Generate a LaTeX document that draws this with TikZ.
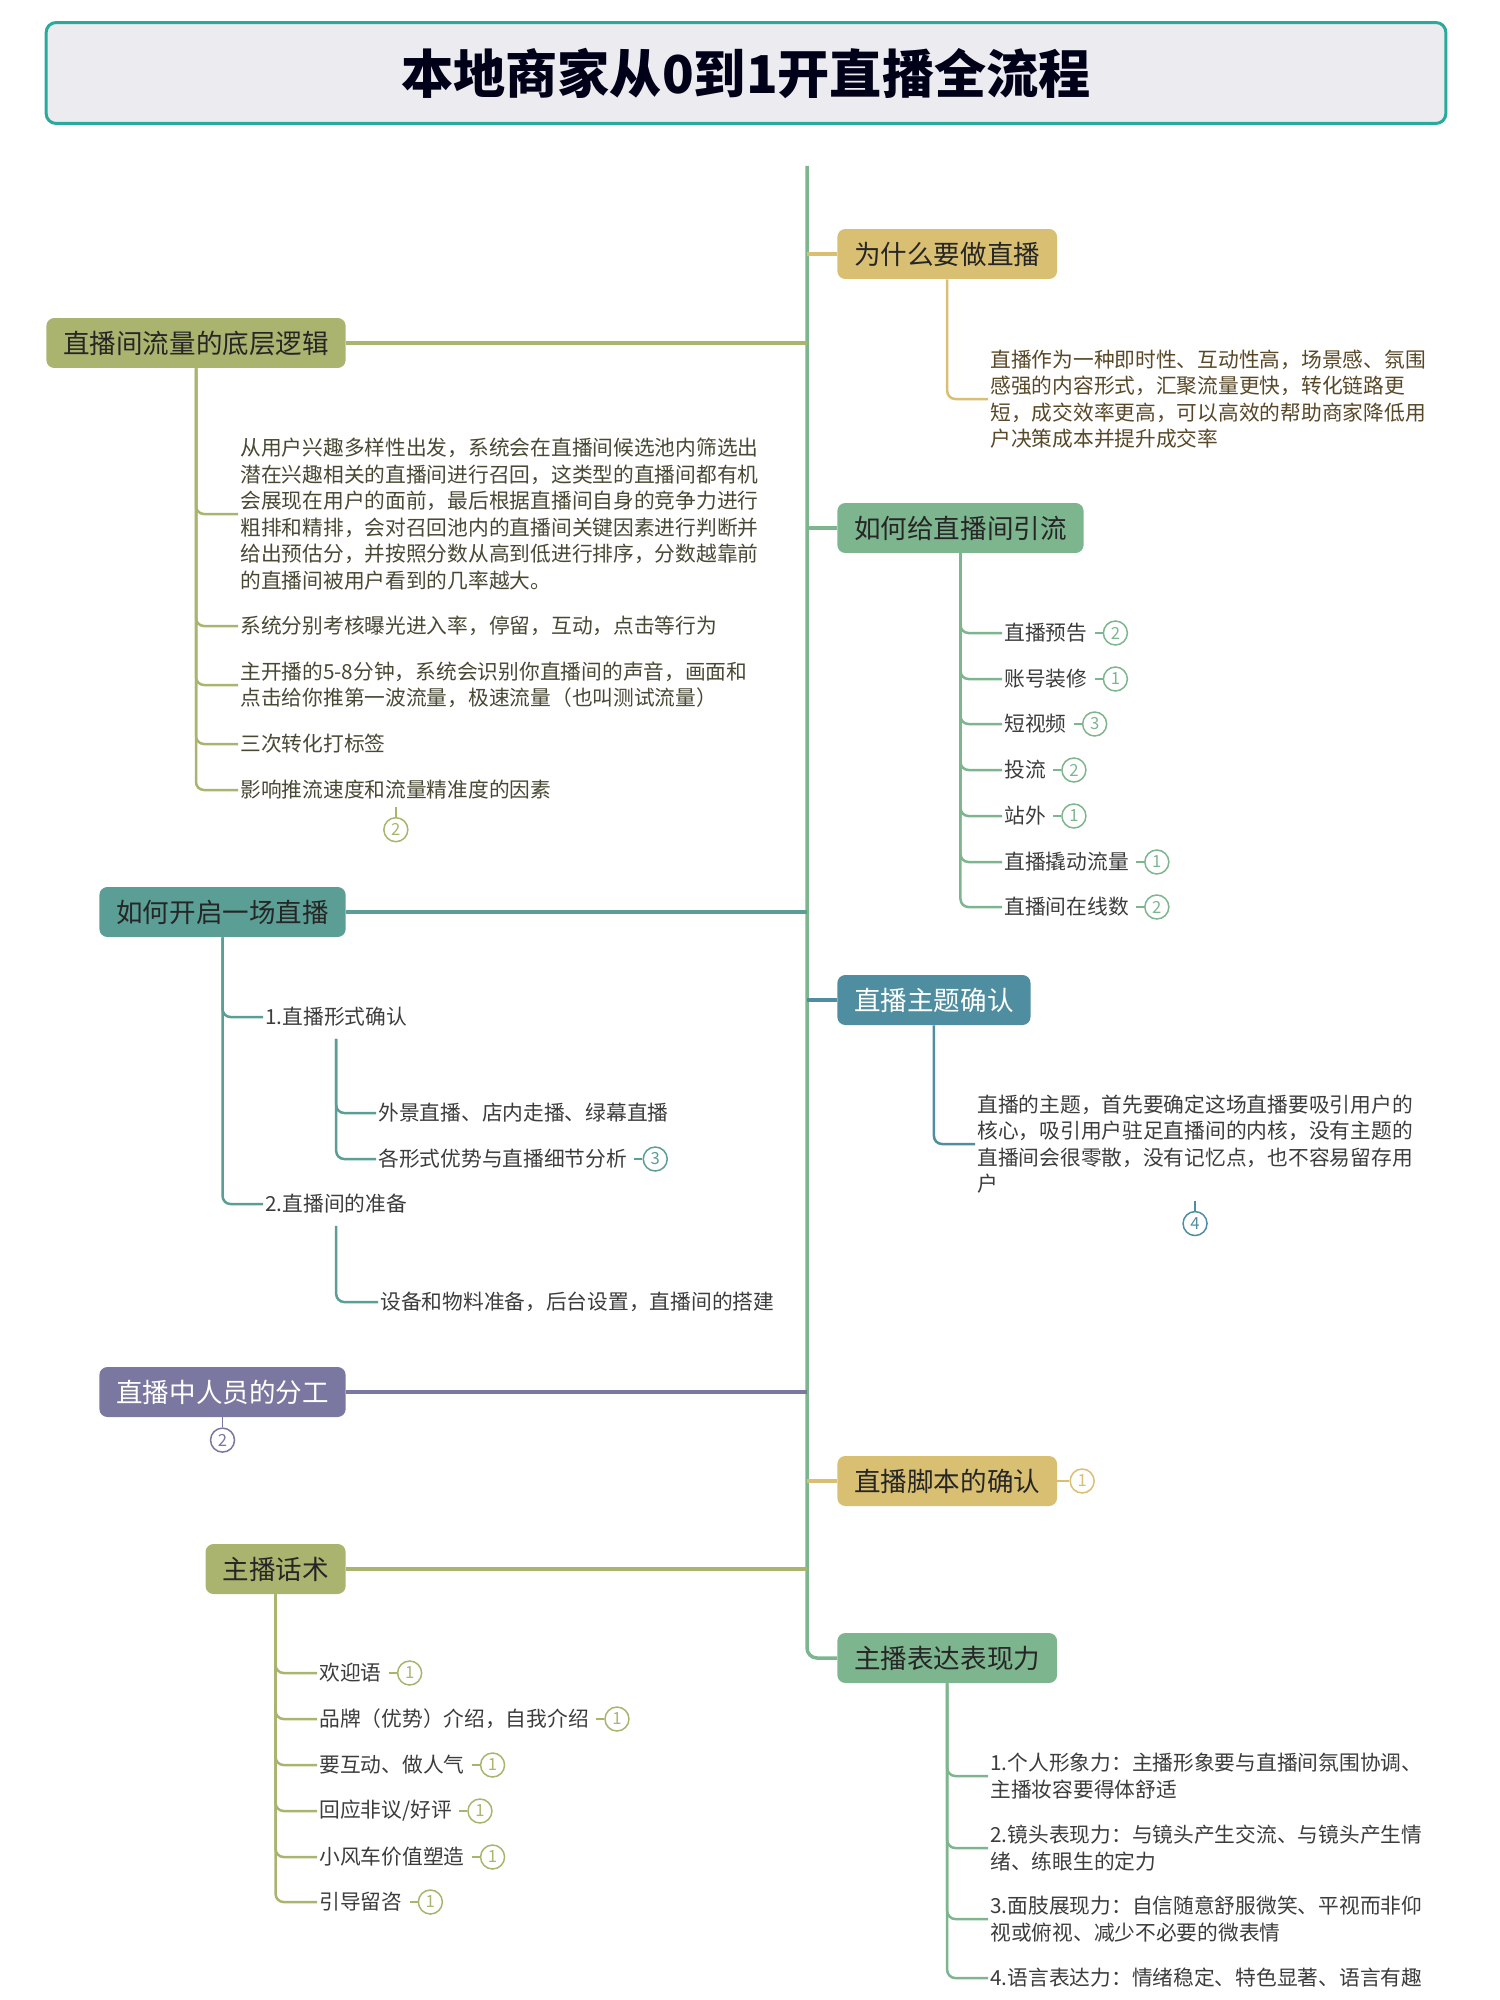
\documentclass[tikz,border=0pt]{standalone}
\usepackage{fontspec}
\setmainfont{Noto Sans CJK SC}
\usepackage{xcolor}
\definecolor{livegold}{RGB}{216, 191, 114}
\definecolor{livegreen}{RGB}{125, 181, 143}
\definecolor{liveolive}{RGB}{170, 180, 111}
\definecolor{liveteal}{RGB}{90, 158, 149}
\definecolor{liveblue}{RGB}{79, 142, 160}
\definecolor{livepurple}{RGB}{122, 119, 160}
\definecolor{titleline}{RGB}{42, 170, 155}
\definecolor{titlefill}{RGB}{236, 235, 239}
\definecolor{goldtext}{RGB}{88, 72, 40}
\definecolor{olivetext}{RGB}{72, 72, 52}
\definecolor{greytext}{RGB}{60, 60, 60}
\usetikzlibrary{positioning}

\tikzset{
  topic/.style={rectangle, rounded corners=0.16cm, inner xsep=0.34cm, minimum height=1cm,
    font=\fontsize{15.1pt}{18pt}\selectfont, text=black!85},
  leaf/.style={inner sep=0.04cm, align=left, font=\fontsize{11.8pt}{15.1pt}\selectfont},
  branch/.style={line width=0.05cm, rounded corners=0.16cm},
  trunkline/.style={line width=0.07cm, rounded corners=0.2cm},
  badge/.style={circle, draw, line width=0.03cm, inner sep=0pt, minimum size=0.48cm,
    font=\fontsize{9.5pt}{9.5pt}\selectfont},
  tick/.style={line width=0.03cm}
}

\begin{document}
\begin{tikzpicture}[x=0.02cm, y=-0.02cm]
    \useasboundingbox (0,0) rectangle (1500,2000);

    % Title
    \node[draw=titleline, fill=titlefill, line width=0.06cm, rounded corners=0.2cm,
          minimum width=28cm, minimum height=2.02cm] (title) at (746,73)
          {\fontsize{29.7pt}{34pt}\selectfont\bfseries\color{black!90!blue}本地商家从0到1开直播全流程};

    % Trunk
    \coordinate (trunk) at (807,166);

    % Right topics
    \node[topic, fill=livegold, anchor=west] (why) at (837,254) {为什么要做直播};
    \node[topic, fill=livegreen, anchor=west] (flow) at (837,528) {如何给直播间引流};
    \node[topic, fill=liveblue, text=white, anchor=west] (theme) at (837,1000) {直播主题确认};
    \node[topic, fill=livegold, anchor=west] (script) at (837,1481) {直播脚本的确认};
    \node[topic, fill=livegreen, anchor=west] (express) at (837,1658) {主播表达表现力};

    % Left topics
    \node[topic, fill=liveolive, anchor=east] (logic) at (346,343) {直播间流量的底层逻辑};
    \node[topic, fill=liveteal, anchor=east] (start) at (346,912) {如何开启一场直播};
    \node[topic, fill=livepurple, text=white, anchor=east] (staff) at (346,1392) {直播中人员的分工};
    \node[topic, fill=liveolive, anchor=east] (talk) at (346,1569) {主播话术};

    % Trunk and topic links
    \draw[trunkline, livegreen] (trunk) |- (express.west);
    \draw[trunkline, livegold] (why.west -| trunk) -- (why.west);
    \draw[trunkline, livegreen] (flow.west -| trunk) -- (flow.west);
    \draw[trunkline, liveblue] (theme.west -| trunk) -- (theme.west);
    \draw[trunkline, livegold] (script.west -| trunk) -- (script.west);
    \draw[trunkline, liveolive] (logic.east) -- (logic.east -| trunk);
    \draw[trunkline, liveteal] (start.east) -- (start.east -| trunk);
    \draw[trunkline, livepurple] (staff.east) -- (staff.east -| trunk);
    \draw[trunkline, liveolive] (talk.east) -- (talk.east -| trunk);

    % Why
    \node[leaf, text=goldtext, anchor=west] (whyT) at (988,399)
        {直播作为一种即时性、互动性高，场景感、氛围\\感强的内容形式，汇聚流量更快，转化链路更\\短，成交效率更高，可以高效的帮助商家降低用\\户决策成本并提升成交率};
    \draw[branch, livegold] (why.south) |- (whyT.west);

    % Flow
    \node[leaf, text=greytext, anchor=west] (flowA) at (1002,633) {直播预告};
    \node[leaf, text=greytext, anchor=west] (flowB) at (1002,679) {账号装修};
    \node[leaf, text=greytext, anchor=west] (flowC) at (1002,724) {短视频};
    \node[leaf, text=greytext, anchor=west] (flowD) at (1002,770) {投流};
    \node[leaf, text=greytext, anchor=west] (flowE) at (1002,816) {站外};
    \node[leaf, text=greytext, anchor=west] (flowF) at (1002,862) {直播撬动流量};
    \node[leaf, text=greytext, anchor=west] (flowG) at (1002,907) {直播间在线数};
    \foreach \n/\k in {A/2, B/1, C/3, D/2, E/1, F/1, G/2} {
        \draw[branch, livegreen] (flow.south) |- (flow\n.west);
        \node[badge, draw=livegreen, text=livegreen, right=0.26cm of flow\n] (flowN\n) {\k};
        \draw[tick, livegreen] ([xshift=0.1cm]flow\n.east) -- (flowN\n.west);
    }

    % Theme
    \node[leaf, text=greytext, anchor=west] (themeT) at (975,1144)
        {直播的主题，首先要确定这场直播要吸引用户的\\核心，吸引用户驻足直播间的内核，没有主题的\\直播间会很零散，没有记忆点，也不容易留存用\\户};
    \draw[branch, liveblue] (theme.south) |- (themeT.west);
    \node[badge, draw=liveblue, text=liveblue, below=0.3cm of themeT] (themeN) {4};
    \draw[tick, liveblue] ([yshift=-0.1cm]themeT.south -| themeN) -- (themeN.north);

    % Script
    \node[badge, draw=livegold, text=livegold, right=0.24cm of script] (scriptN) {1};
    \draw[tick, livegold] (script.east) -- (scriptN.west);

    % Express
    \node[leaf, text=greytext, anchor=west] (exA) at (988,1776)
        {1.个人形象力：主播形象要与直播间氛围协调、\\主播妆容要得体舒适};
    \node[leaf, text=greytext, anchor=west] (exB) at (988,1848)
        {2.镜头表现力：与镜头产生交流、与镜头产生情\\绪、练眼生的定力};
    \node[leaf, text=greytext, anchor=west] (exC) at (988,1919)
        {3.面肢展现力：自信随意舒服微笑、平视而非仰\\视或俯视、减少不必要的微表情};
    \node[leaf, text=greytext, anchor=west] (exD) at (988,1978)
        {4.语言表达力：情绪稳定、特色显著、语言有趣};
    \foreach \n in {A, B, C, D}
        \draw[branch, livegreen] (express.south) |- (ex\n.west);

    % Logic
    \node[leaf, text=olivetext, anchor=west] (logicA) at (238,514)
        {从用户兴趣多样性出发，系统会在直播间候选池内筛选出\\潜在兴趣相关的直播间进行召回，这类型的直播间都有机\\会展现在用户的面前，最后根据直播间自身的竞争力进行\\粗排和精排，会对召回池内的直播间关键因素进行判断并\\给出预估分，并按照分数从高到低进行排序，分数越靠前\\的直播间被用户看到的几率越大。};
    \node[leaf, text=olivetext, anchor=west] (logicB) at (238,626) {系统分别考核曝光进入率，停留，互动，点击等行为};
    \node[leaf, text=olivetext, anchor=west] (logicC) at (238,685)
        {主开播的5-8分钟，系统会识别你直播间的声音，画面和\\点击给你推第一波流量，极速流量（也叫测试流量）};
    \node[leaf, text=olivetext, anchor=west] (logicD) at (238,744) {三次转化打标签};
    \node[leaf, text=olivetext, anchor=west] (logicE) at (238,790) {影响推流速度和流量精准度的因素};
    \foreach \n in {A, B, C, D, E}
        \draw[branch, liveolive] (logic.south) |- (logic\n.west);
    \node[badge, draw=liveolive, text=liveolive, below=0.3cm of logicE] (logicN) {2};
    \draw[tick, liveolive] ([yshift=-0.1cm]logicE.south -| logicN) -- (logicN.north);

    % Start
    \node[leaf, text=greytext, anchor=west] (form) at (263,1017) {1.直播形式确认};
    \node[leaf, text=greytext, anchor=west] (formA) at (376,1113) {外景直播、店内走播、绿幕直播};
    \node[leaf, text=greytext, anchor=west] (formB) at (376,1159) {各形式优势与直播细节分析};
    \node[leaf, text=greytext, anchor=west] (prep) at (263,1204) {2.直播间的准备};
    \node[leaf, text=greytext, anchor=west] (prepA) at (378,1302) {设备和物料准备，后台设置，直播间的搭建};
    \draw[branch, liveteal] (start.south) |- (form.west);
    \draw[branch, liveteal] (start.south) |- (prep.west);
    \draw[branch, liveteal] ([yshift=-0.2cm]form.south) |- (formA.west);
    \draw[branch, liveteal] ([yshift=-0.2cm]form.south) |- (formB.west);
    \draw[branch, liveteal] ([yshift=-0.2cm]prep.south) |- (prepA.west);
    \node[badge, draw=liveteal, text=liveteal, right=0.26cm of formB] (formN) {3};
    \draw[tick, liveteal] ([xshift=0.1cm]formB.east) -- (formN.west);

    % Staff
    \node[badge, draw=livepurple, text=livepurple, below=0.2cm of staff] (staffN) {2};
    \draw[tick, livepurple] (staff.south) -- (staffN.north);

    % Talk
    \node[leaf, text=greytext, anchor=west] (talkA) at (317,1673) {欢迎语};
    \node[leaf, text=greytext, anchor=west] (talkB) at (317,1719) {品牌（优势）介绍，自我介绍};
    \node[leaf, text=greytext, anchor=west] (talkC) at (317,1765) {要互动、做人气};
    \node[leaf, text=greytext, anchor=west] (talkD) at (317,1811) {回应非议/好评};
    \node[leaf, text=greytext, anchor=west] (talkE) at (317,1857) {小风车价值塑造};
    \node[leaf, text=greytext, anchor=west] (talkF) at (317,1902) {引导留咨};
    \foreach \n in {A, B, C, D, E, F} {
        \draw[branch, liveolive] (talk.south) |- (talk\n.west);
        \node[badge, draw=liveolive, text=liveolive, right=0.26cm of talk\n] (talkN\n) {1};
        \draw[tick, liveolive] ([xshift=0.1cm]talk\n.east) -- (talkN\n.west);
    }
\end{tikzpicture}
\end{document}
